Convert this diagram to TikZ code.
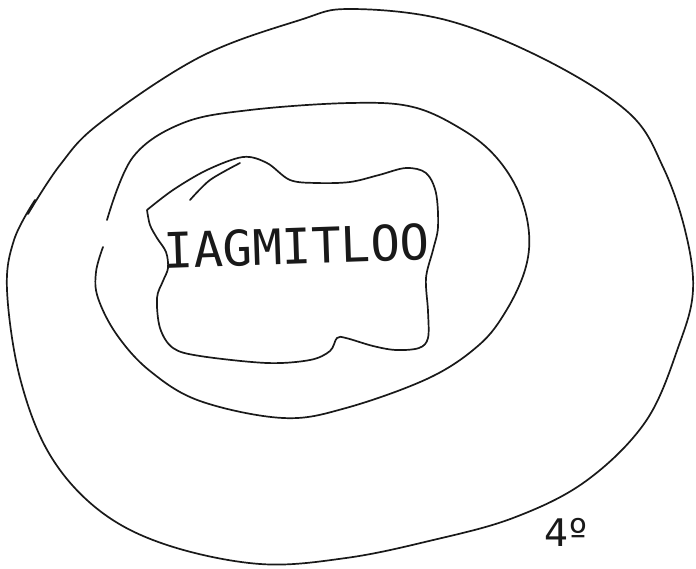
\documentclass[tikz,border=0pt]{standalone}
\usepackage{fontspec}
\newfontfamily\monof{DejaVu Sans Mono}
\newfontfamily\sansf{DejaVu Sans}
\begin{document}
\begin{tikzpicture}[x=1pt,y=-1pt,
  penline/.style={draw=black!90,line width=1.7pt,line cap=round,line join=round},
  label/.style={inner sep=0pt,text=black!90}]
\fill[white] (0,0) rectangle (696,568);
\useasboundingbox (0,0) rectangle (696,568);
% outer ring
\draw[penline] plot[smooth,tension=0.6] coordinates {(28,214) (60,165) (100,123) (200,57) (300,20) (350,9) (446,20) (546,60) (629,113) (663,167) (685,230) (693,290) (679,345) (646,421) (586,481) (513,518) (429,541) (346,558) (260,564) (167,545) (100,511) (50,455) (20,378) (7,290) (14,240) (35,200)};
% middle ring
\draw[penline] plot[smooth,tension=0.6] coordinates {(107,220) (133,157) (183,123) (250,110) (350,103) (413,107) (463,130) (496,157) (519,193) (529,233) (525,270) (506,311) (479,345) (429,378) (346,408) (283,418) (200,401) (150,371) (117,335) (98,298) (96,272) (103,247)};
% inner blob
\draw[penline] plot[smooth,tension=0.55] coordinates {(147,210) (173,190) (207,170) (243,157) (267,163) (290,180) (317,183) (350,182) (379,175) (406,168) (426,173) (436,193) (438,227) (433,250) (426,278) (428,311) (428,338) (419,348) (396,350) (373,346) (346,338) (337,338) (330,351) (310,360) (267,363) (200,356) (173,348) (160,328) (157,298) (163,281) (168,268) (166,252) (157,238) (150,225) (147,210)};
\draw[penline] plot[smooth] coordinates {(190,200) (210,180) (240,163)};
% texts
\node[label,rotate=2,font=\monof\fontsize{49}{50}\selectfont] (word) at (297,246) {IAGMITLOO};
\node[label,font=\sansf\fontsize{38}{42}\selectfont] (num) at (566,532) {4º};
\end{tikzpicture}
\end{document}
